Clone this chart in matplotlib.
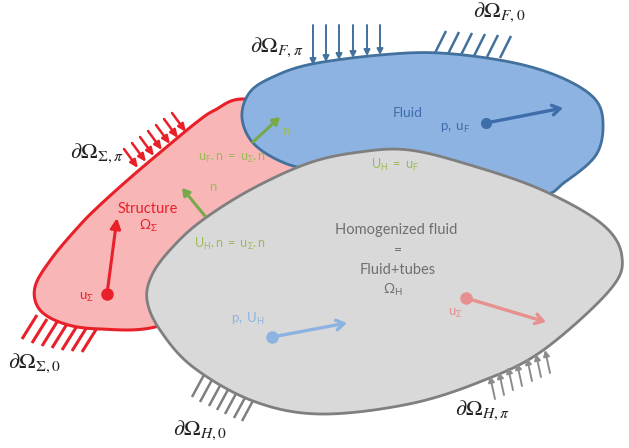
import numpy as np
import matplotlib
matplotlib.use('Agg')
import matplotlib.pyplot as plt
from matplotlib.patches import Polygon

plt.rcParams['font.family'] = ['Lato', 'DejaVu Sans']
plt.rcParams['mathtext.fontset'] = 'custom'
plt.rcParams['mathtext.rm'] = 'Lato'
plt.rcParams['mathtext.it'] = 'Lato:italic'

# outline points of the three domains (pixel space)
structure_x = [243, 215, 197, 163, 130, 100, 80, 52, 35, 40, 65, 100, 155, 220, 300, 300]
structure_y = [99, 110, 122, 150, 178, 205, 225, 258, 287, 310, 324, 329, 327, 300, 200, 110]
fluid_x = [242, 250, 275, 312, 380, 440, 510, 560, 594, 603, 596, 565, 540, 470, 400, 330, 290, 255]
fluid_y = [118, 92, 76, 64, 55, 53, 62, 77, 98, 123, 155, 182, 195, 185, 170, 170, 165, 145]
homog_x = [147, 152, 170, 200, 250, 309, 360, 409, 470, 542, 602, 622, 609, 542, 482, 409, 320, 253, 193, 160]
homog_y = [300, 275, 250, 222, 190, 163, 152, 150, 165, 190, 224, 257, 291, 351, 381, 404, 414, 401, 367, 330]

# boundary condition marks: (x, y) on the boundary
red_arrow_x = [138, 146, 154, 162, 170, 178, 186]
red_arrow_y = [168, 162, 156, 150, 144, 138, 132]
red_hatch_x = [37, 47, 57, 67, 77, 87, 97]
red_hatch_y = [315, 319, 322, 324, 326, 327, 328]
blue_arrow_x = [313, 326, 339, 353, 367, 380]
blue_arrow_y = [65, 62, 60, 58, 56, 55]
blue_hatch_x = [435, 448, 461, 474, 487, 500]
blue_hatch_y = [53, 54, 55, 56, 57, 58]
grey_hatch_x = [205, 213, 222, 230, 238, 247, 255]
grey_hatch_y = [373, 378, 382, 386, 390, 394, 397]
grey_arrow_x = [490, 499, 508, 517, 527, 536, 545]
grey_arrow_y = [376, 372, 367, 363, 358, 354, 350]


def smooth(xs, ys, n=30):
    pts = np.column_stack([xs, ys]).astype(float)
    P = np.vstack([pts[-1], pts, pts[0], pts[1]])
    t = np.linspace(0, 1, n, endpoint=False)[:, None]
    out = []
    for i in range(1, len(pts) + 1):
        p0, p1, p2, p3 = P[i - 1], P[i], P[i + 1], P[i + 2]
        out.append(0.5 * (2 * p1 + (-p0 + p2) * t + (2 * p0 - 5 * p1 + 4 * p2 - p3) * t ** 2
                          + (-p0 + 3 * p1 - 3 * p2 + p3) * t ** 3))
    return np.vstack(out)


fig = plt.figure(figsize=(6.29, 4.48), dpi=100)
ax = fig.add_axes([0, 0, 1, 1])
ax.set_xlim(0, 629)
ax.set_ylim(448, 0)
ax.axis('off')

ax.add_patch(Polygon(smooth(structure_x, structure_y), closed=True, fc='#f8b6b6', ec='#e8202a', lw=2.2, zorder=1))
ax.add_patch(Polygon(smooth(fluid_x, fluid_y), closed=True, fc='#8db3e2', ec='#41719c', lw=2, zorder=2))
ax.add_patch(Polygon(smooth(homog_x, homog_y), closed=True, fc='#d9d9d9', ec='#7f7f7f', lw=2, zorder=3))


def arrow(x0, y0, x1, y1, color, lw=1.3, style='-|>,head_length=0.35,head_width=0.18', z=5):
    ax.annotate('', xy=(x1, y1), xytext=(x0, y0),
                arrowprops=dict(arrowstyle=style, color=color, lw=lw, shrinkA=0, shrinkB=0), zorder=z)


# boundary arrows and hatches
for x, y in zip(red_arrow_x, red_arrow_y):
    arrow(x - 14, y - 19, x, y, '#e8202a', lw=1.8, style='-|>,head_length=0.45,head_width=0.2')
for x, y in zip(red_hatch_x, red_hatch_y):
    ax.plot([x, x - 15], [y, y + 24], color='#e8202a', lw=2.2, solid_capstyle='butt', zorder=0)
for x, y in zip(blue_arrow_x, blue_arrow_y):
    arrow(x, 25, x, y, '#41719c', lw=1.4)
for x, y in zip(blue_hatch_x, blue_hatch_y):
    ax.plot([x, x + 11], [y, y - 22], color='#41719c', lw=1.8, solid_capstyle='butt', zorder=0)
for x, y in zip(grey_hatch_x, grey_hatch_y):
    ax.plot([x, x - 13], [y, y + 24], color='#7f7f7f', lw=1.8, solid_capstyle='butt', zorder=0)
for x, y in zip(grey_arrow_x, grey_arrow_y):
    arrow(x + 5, y + 23, x, y, '#8c8c8c', lw=1.4)

# interior vectors
chev = '->,head_length=0.55,head_width=0.35'
ax.plot(486, 123, 'o', color='#3d6eab', ms=7, zorder=6)
arrow(486, 123, 563, 108, '#3d6eab', lw=2.4, style=chev, z=6)
ax.plot(107, 294, 'o', color='#e8202a', ms=8, zorder=6)
arrow(107, 294, 117, 218, '#e8202a', lw=2.2, style='-|>,head_length=0.6,head_width=0.3', z=6)
ax.plot(272, 337, 'o', color='#8db3e2', ms=8, zorder=6)
arrow(272, 337, 347, 323, '#8db3e2', lw=2.4, style=chev, z=6)
ax.plot(466, 298, 'o', color='#e6908f', ms=8, zorder=6)
arrow(466, 298, 546, 322, '#e6908f', lw=2.4, style=chev, z=6)
arrow(253, 142, 280, 117, '#77a94a', lw=2.2, style='-|>,head_length=0.4,head_width=0.25', z=6)
arrow(205, 216, 182, 188, '#77a94a', lw=2.2, style='-|>,head_length=0.4,head_width=0.25', z=6)

# texts inside domains
green = '#9bbb59'
ax.text(232, 158, r'$\mathrm{u_F.n\ =\ u_\Sigma.n}$', color=green, fontsize=9, ha='center', va='center', zorder=7)
ax.text(213, 187, 'n', color=green, fontsize=9.5, ha='center', va='center', zorder=7)
ax.text(286, 131, 'n', color=green, fontsize=9.5, ha='center', va='center', zorder=7)
ax.text(230, 244, r'$\mathrm{U_H.n\ =\ u_\Sigma.n}$', color=green, fontsize=9, ha='center', va='center', zorder=7)
ax.text(395, 165, r'$\mathrm{U_H\ =\ u_F}$', color=green, fontsize=9, ha='center', va='center', zorder=7)
ax.text(148, 209, 'Structure', color='#e8202a', fontsize=10.5, ha='center', va='center', zorder=7)
ax.text(148, 226, r'$\mathrm{\Omega_\Sigma}$', color='#e8202a', fontsize=10, ha='center', va='center', zorder=7)
ax.text(86, 297, r'$\mathrm{u_\Sigma}$', color='#e8202a', fontsize=9.5, ha='center', va='center', zorder=7)
ax.text(408, 113, 'Fluid', color='#3d6eab', fontsize=10, ha='center', va='center', zorder=7)
ax.text(455, 128, r'$\mathrm{p,\ u_F}$', color='#3d6eab', fontsize=9.5, ha='center', va='center', zorder=7)
ax.text(396, 230, 'Homogenized fluid', color='#6f6f6f', fontsize=10.5, ha='center', va='center', zorder=7)
ax.text(398, 250, '=', color='#6f6f6f', fontsize=10, ha='center', va='center', zorder=7)
ax.text(398, 270, 'Fluid+tubes', color='#6f6f6f', fontsize=10.5, ha='center', va='center', zorder=7)
ax.text(393, 290, r'$\mathrm{\Omega_H}$', color='#6f6f6f', fontsize=10, ha='center', va='center', zorder=7)
ax.text(248, 319, r'$\mathrm{p,\ U_H}$', color='#8db3e2', fontsize=9.5, ha='center', va='center', zorder=7)
ax.text(455, 313, r'$\mathrm{u_\Sigma}$', color='#e6908f', fontsize=9.5, ha='center', va='center', zorder=7)

# boundary labels
labels = [r'$\partial\Omega_{\Sigma,\pi}$', r'$\partial\Omega_{\Sigma,0}$', r'$\partial\Omega_{F,\pi}$',
          r'$\partial\Omega_{F,0}$', r'$\partial\Omega_{H,0}$', r'$\partial\Omega_{H,\pi}$']
label_x = [70, 8, 250, 473, 173, 455]
label_y = [153, 363, 47, 12, 430, 410]
for s, x, y in zip(labels, label_x, label_y):
    ax.text(x, y, s, fontsize=16, ha='left', va='center', math_fontfamily='stix', color='#222222', zorder=7)

fig.savefig('out.png', dpi=100)
